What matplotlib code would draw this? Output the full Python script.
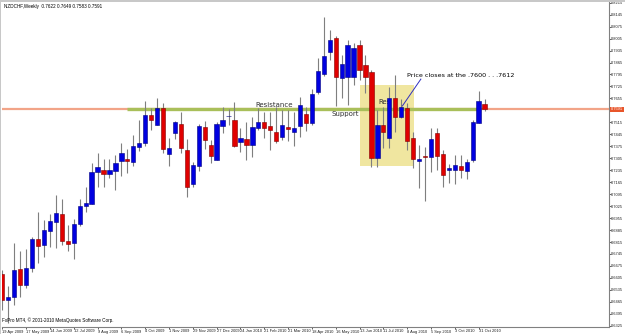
import numpy as np
import matplotlib.pyplot as plt
from matplotlib.patches import Rectangle

# NZDCHF weekly candles, week 0 = 19 Apr 2009
opens = [0.6628, 0.6476, 0.6493, 0.6657, 0.6564, 0.6663, 0.6833, 0.6798, 0.6880, 0.6932,
         0.6979, 0.6821, 0.6809, 0.6920, 0.7026, 0.7037, 0.7224, 0.7236, 0.7213, 0.7230,
         0.7289, 0.7301, 0.7283, 0.7371, 0.7394, 0.7558, 0.7500, 0.7599, 0.7330, 0.7453,
         0.7505, 0.7353, 0.7154, 0.7260, 0.7488, 0.7383, 0.7295, 0.7494, 0.7552, 0.7529,
         0.7400, 0.7418, 0.7383, 0.7482, 0.7517, 0.7494, 0.7459, 0.7429, 0.7488, 0.7459,
         0.7494, 0.7564, 0.7511, 0.7693, 0.7798, 0.7927, 0.8009, 0.7775, 0.7780, 0.7780,
         0.7968, 0.7851, 0.7810, 0.7307, 0.7500, 0.7423, 0.7658, 0.7546, 0.7599, 0.7423,
         0.7289, 0.7318, 0.7312, 0.7453, 0.7330, 0.7236, 0.7236, 0.7260, 0.7230, 0.7295,
         0.7511, 0.7622]
highs = [0.6651, 0.6558, 0.6809, 0.6763, 0.6774, 0.6844, 0.6991, 0.6944, 0.6979, 0.7090,
         0.7067, 0.6915, 0.6950, 0.7067, 0.7137, 0.7277, 0.7336, 0.7301, 0.7301, 0.7324,
         0.7394, 0.7359, 0.7441, 0.7529, 0.7640, 0.7599, 0.7658, 0.7628, 0.7423, 0.7523,
         0.7576, 0.7418, 0.7283, 0.7505, 0.7523, 0.7412, 0.7517, 0.7605, 0.7593, 0.7634,
         0.7482, 0.7517, 0.7546, 0.7599, 0.7576, 0.7576, 0.7605, 0.7587, 0.7587, 0.7576,
         0.7663, 0.7605, 0.7710, 0.7892, 0.8131, 0.8055, 0.8021, 0.7909, 0.7997, 0.7979,
         0.7997, 0.7909, 0.7821, 0.7587, 0.7605, 0.7722, 0.7792, 0.7652, 0.7628, 0.7459,
         0.7383, 0.7371, 0.7482, 0.7482, 0.7353, 0.7271, 0.7324, 0.7324, 0.7301, 0.7529,
         0.7698, 0.7649]
lows = [0.6417, 0.6341, 0.6447, 0.6493, 0.6546, 0.6640, 0.6692, 0.6727, 0.6786, 0.6780,
        0.6798, 0.6763, 0.6716, 0.6909, 0.6991, 0.7037, 0.7137, 0.7137, 0.7189, 0.7119,
        0.7201, 0.7219, 0.7260, 0.7348, 0.7377, 0.7470, 0.7500, 0.7336, 0.7260, 0.7418,
        0.7336, 0.7078, 0.7137, 0.7230, 0.7359, 0.7277, 0.7295, 0.7453, 0.7500, 0.7371,
        0.7342, 0.7295, 0.7312, 0.7470, 0.7423, 0.7353, 0.7394, 0.7412, 0.7406, 0.7377,
        0.7429, 0.7464, 0.7500, 0.7681, 0.7786, 0.7880, 0.7611, 0.7658, 0.7617, 0.7734,
        0.7763, 0.7687, 0.7254, 0.7254, 0.7365, 0.7365, 0.7459, 0.7541, 0.7353, 0.7248,
        0.7131, 0.7055, 0.7224, 0.7236, 0.7137, 0.7160, 0.7154, 0.7189, 0.7184, 0.7283,
        0.7511, 0.7583]
closes = [0.6476, 0.6493, 0.6651, 0.6564, 0.6663, 0.6833, 0.6792, 0.6885, 0.6938, 0.6985,
          0.6821, 0.6803, 0.6920, 0.7026, 0.7043, 0.7224, 0.7254, 0.7213, 0.7236, 0.7277,
          0.7336, 0.7289, 0.7377, 0.7394, 0.7558, 0.7529, 0.7599, 0.7359, 0.7365, 0.7517,
          0.7365, 0.7137, 0.7265, 0.7494, 0.7412, 0.7318, 0.7505, 0.7529, 0.7552, 0.7377,
          0.7423, 0.7383, 0.7488, 0.7517, 0.7482, 0.7470, 0.7406, 0.7500, 0.7476, 0.7482,
          0.7617, 0.7511, 0.7681, 0.7815, 0.7903, 0.7997, 0.7780, 0.7857, 0.7968, 0.7950,
          0.7821, 0.7780, 0.7307, 0.7500, 0.7459, 0.7658, 0.7546, 0.7605, 0.7406, 0.7301,
          0.7301, 0.7312, 0.7418, 0.7318, 0.7207, 0.7248, 0.7265, 0.7236, 0.7283, 0.7517,
          0.7640, 0.7591]

date_labels = ["19 Apr 2009", "17 May 2009", "14 Jun 2009", "12 Jul 2009", "9 Aug 2009",
               "6 Sep 2009", "4 Oct 2009", "1 Nov 2009", "29 Nov 2009", "27 Dec 2009",
               "24 Jan 2010", "21 Feb 2010", "21 Mar 2010", "18 Apr 2010", "16 May 2010",
               "13 Jun 2010", "11 Jul 2010", "8 Aug 2010", "5 Sep 2010", "3 Oct 2010",
               "31 Oct 2010"]
price_ticks = [0.8215, 0.8145, 0.8075, 0.8005, 0.7935, 0.7865, 0.7795, 0.7725, 0.7655,
               0.7585, 0.7515, 0.7445, 0.7375, 0.7305, 0.7235, 0.7165, 0.7095, 0.7025,
               0.6955, 0.6885, 0.6815, 0.6745, 0.6675, 0.6605, 0.6535, 0.6465, 0.6395,
               0.6325]
level = 0.7593        # resistance / support level
last_price = 0.7591

SMALL = ["Liberation Sans Narrow", "Liberation Sans", "DejaVu Sans"]
FS = 2.9

W, H = 625, 334
fig = plt.figure(figsize=(W / 100, H / 100), dpi=100)
fig.patch.set_facecolor("white")
ax = fig.add_axes([2 / W, (H - 327) / H, 607 / W, 325 / H])

opens = np.array(opens); closes = np.array(closes)
highs = np.array(highs); lows = np.array(lows)
x = np.arange(len(opens))
up = closes >= opens

# yellow box
ax.add_patch(Rectangle((60.0, 0.7260), 9.1, 0.0473, facecolor="#F0E6A0",
                       edgecolor="none", zorder=1))

# level lines
ax.axhline(level, color="#F2A488", lw=1.6, zorder=2)
ax.plot([21.0, 80.2], [level, level], color="#A9BF5A", lw=2.4, zorder=2,
        solid_capstyle="butt")

# candles
ax.vlines(x, lows, highs, color="#7F7F7F", lw=0.8, zorder=3)
body_lo = np.minimum(opens, closes)
body_h = np.maximum(np.abs(closes - opens), 0.0002)
ax.bar(x[up], body_h[up], bottom=body_lo[up], width=0.72, color="#0000E0",
       edgecolor="#000080", linewidth=0.4, zorder=4)
ax.bar(x[~up], body_h[~up], bottom=body_lo[~up], width=0.72, color="#E00000",
       edgecolor="#800000", linewidth=0.4, zorder=4)

# annotations
ax.text(42.5, 0.7600, "Resistance", fontsize=5, color="#303030", va="bottom", zorder=5)
ax.text(55.3, 0.7583, "Support", fontsize=5, color="#303030", va="top", zorder=5)
ax.text(63.2, 0.7634, "Res", fontsize=5, color="#303030", va="center", zorder=3.5)
ax.text(67.9, 0.7792, "Price closes at the .7600 . . .7612", fontsize=4.6,
        color="black", va="center", zorder=5)
ax.plot([70.3, 67.2], [0.7768, 0.7611], color="#3030C0", lw=0.7, zorder=5)

ax.set_xlim(-0.05, 101.9)
ax.set_ylim(0.63178, 0.82191)

# axes styling
for s in ["top", "left"]:
    ax.spines[s].set_visible(False)
for s in ["bottom", "right"]:
    ax.spines[s].set_color("#808080")
    ax.spines[s].set_linewidth(0.8)
ax.yaxis.tick_right()
ax.set_yticks(price_ticks)
ax.set_yticklabels([f"{p:.4f}" for p in price_ticks], family=SMALL)
ax.tick_params(axis="y", labelsize=FS, length=1.2, width=0.5, pad=0.5, colors="#202020")
ax.set_xticks(np.arange(0, 4 * len(date_labels), 4))
ax.set_xticklabels(date_labels, ha="left", family=SMALL)
ax.tick_params(axis="x", labelsize=FS, length=1.2, width=0.5, pad=0.6, colors="#202020")

# current price tag
ax.text(1.003, last_price, f"{last_price:.4f}", transform=ax.get_yaxis_transform(),
        fontsize=FS, family=SMALL, color="white", va="center", ha="left",
        bbox=dict(boxstyle="square,pad=0.15", fc="#E8552A", ec="none"))

# header / footer
ax.text(0.004, 0.995, "NZDCHF,Weekly  0.7622 0.7649 0.7583 0.7591", transform=ax.transAxes,
        fontsize=3.3, family=SMALL, va="top", ha="left")
ax.text(0.0, 0.012, "FxPro MT4, \u00a9 2001-2010 MetaQuotes Software Corp.",
        transform=ax.transAxes, fontsize=3.3, family=SMALL, va="bottom", ha="left")

# window frame
fig.add_artist(Rectangle((0, (H - 2) / H), 1, 2 / H, transform=fig.transFigure,
                         facecolor="#C8C8C8", edgecolor="none"))
fig.add_artist(Rectangle((0, 0), 1.5 / W, 1, transform=fig.transFigure,
                         facecolor="#C8C8C8", edgecolor="none"))

fig.savefig("out.png", dpi=100)
